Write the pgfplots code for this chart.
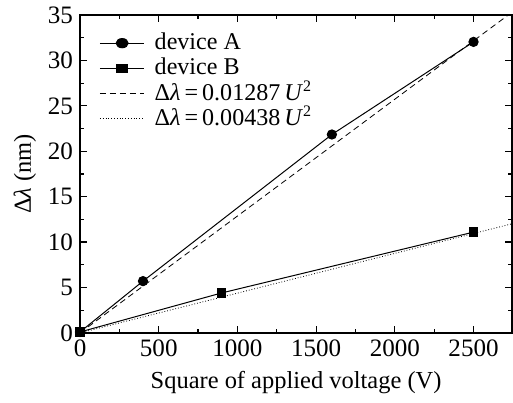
\documentclass[border=0pt]{standalone}
\usepackage{fontspec}
\setmainfont{Liberation Serif}
\usepackage{pgfplots}
\pgfplotsset{compat=1.18}

\begin{document}
\begin{tikzpicture}
\begin{axis}[
    scale only axis,
    width=215.5pt,
    height=158.5pt,
    xmin=0, xmax=2745,
    ymin=0, ymax=35,
    xtick={0,500,1000,1500,2000,2500},
    ytick={0,5,10,15,20,25,30,35},
    minor x tick num=1,
    minor y tick num=1,
    tick align=inside,
    major tick length=3.5pt,
    minor tick length=2pt,
    axis line style={line width=0.9pt},
    every tick/.style={black, line width=0.6pt},
    /pgf/number format/assume math mode=true,
    /pgf/number format/1000 sep={},
    ticklabel style={font=\fontsize{12.5}{14}\selectfont},
    label style={font=\fontsize{12.2}{14}\selectfont},
    xlabel={Square of applied voltage (V)},
    ylabel={Δ\textit{λ} (nm)},
    xlabel style={yshift=-0.5pt},
    ylabel style={yshift=-1pt},
    legend style={draw=none, fill=none, font=\fontsize{12}{14}\selectfont,
        at={(0.03,0.965)}, anchor=north west, row sep=0pt,
        nodes={inner sep=0.4pt, text height=9.2pt, text depth=2.5pt},
        /tikz/every odd column/.append style={column sep=4.5pt},
        legend cell align=left},
    legend image post style={xscale=1.3},
]
\addplot[black, line width=0.5pt, mark=*, mark size=2.3pt] coordinates {
    (0, 0.1) (400, 5.7) (1600, 21.85) (2500, 32.05)
};
\addlegendentry{device A}
\addplot[black, line width=0.5pt, mark=square*, mark size=2.1pt] coordinates {
    (0, 0.1) (900, 4.4) (2500, 11.1)
};
\addlegendentry{device B}
\addplot[black, line width=0.4pt, densely dashed] coordinates {
    (0, 0) (2720, 35.0)
};
\addlegendentry{Δ\textit{λ}\,=\,0.01287\,\textit{U}\textsuperscript{2}}
\addplot[black, line width=0.4pt, densely dotted] coordinates {
    (0, 0) (2745, 12.02)
};
\addlegendentry{Δ\textit{λ}\,=\,0.00438\,\textit{U}\textsuperscript{2}}
\end{axis}
\path ([xshift=-3.5pt,yshift=-1pt]current bounding box.south west);
\end{tikzpicture}
\end{document}
